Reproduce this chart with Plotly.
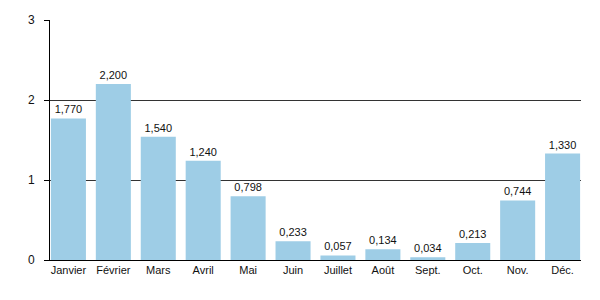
import plotly.graph_objects as go

months = ["Janvier", "Février", "Mars", "Avril", "Mai", "Juin", "Juillet",
          "Août", "Sept.", "Oct.", "Nov.", "Déc."]
values = [1.770, 2.200, 1.540, 1.240, 0.798, 0.233, 0.057, 0.134, 0.034, 0.213, 0.744, 1.330]
labels = [f"{v:.3f}".replace(".", ",") for v in values]

fig = go.Figure(go.Bar(
    x=months, y=values, text=labels, textposition="outside",
    textfont=dict(size=11, color="#111111"),
    marker=dict(color="#9ecde6", line=dict(width=0)),
    cliponaxis=False,
))

fig.update_layout(
    width=600, height=300,
    margin=dict(l=50, r=19, t=20, b=40),
    paper_bgcolor="white", plot_bgcolor="white",
    font=dict(family="Liberation Sans, Arial, sans-serif", size=11, color="#111111"),
    bargap=0.22,
    showlegend=False,
)
fig.update_xaxes(showline=True, linecolor="black", linewidth=1, ticks="",
                 showgrid=False, tickfont=dict(size=11), range=[-0.41, 11.41],
                 ticklabelstandoff=0)
fig.update_yaxes(range=[0, 3], dtick=1, showline=True, linecolor="black", linewidth=1,
                 ticks="outside", ticklen=5, tickcolor="black",
                 showgrid=True, gridcolor="#333333", gridwidth=1, zeroline=False,
                 tickfont=dict(size=12), ticklabelstandoff=7)

fig.write_html("out.html")
